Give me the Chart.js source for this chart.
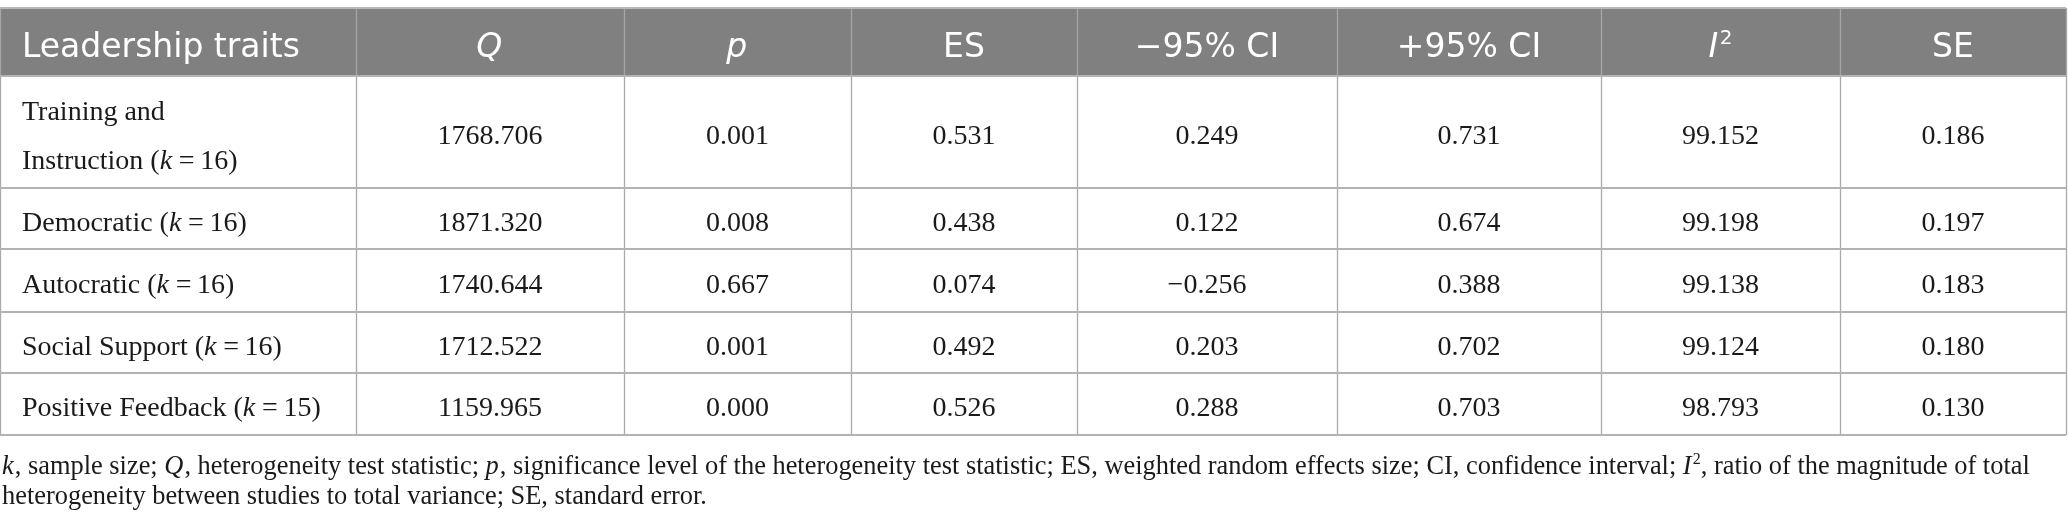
<!DOCTYPE html>
<html>
<head>
<meta charset="utf-8">
<script src="https://cdn.jsdelivr.net/npm/chart.js@4.4.1/dist/chart.umd.min.js"></script>
<style>
html,body{margin:0;padding:0;background:#fff;}
#wrap{width:2068px;height:528px;position:relative;}
</style>
</head>
<body>
<div id="wrap"><canvas id="c"></canvas></div>
<script>
// ---- data ----
const traits = ['Training and\nInstruction', 'Democratic', 'Autocratic', 'Social Support', 'Positive Feedback'];
const kValues = [16, 16, 16, 16, 15];
const qValues = [1768.706, 1871.320, 1740.644, 1712.522, 1159.965];
const pValues = [0.001, 0.008, 0.667, 0.001, 0.000];
const esValues = [0.531, 0.438, 0.074, 0.492, 0.526];
const ciLowValues = [0.249, 0.122, -0.256, 0.203, 0.288];
const ciHighValues = [0.731, 0.674, 0.388, 0.702, 0.703];
const i2Values = [99.152, 99.198, 99.138, 99.124, 98.793];
const seValues = [0.186, 0.197, 0.183, 0.180, 0.130];

const headers = [
  [{t: 'Leadership traits'}],
  [{t: 'Q', i: true}],
  [{t: 'p', i: true}],
  [{t: 'ES'}],
  [{t: '\u221295% CI'}],
  [{t: '+95% CI'}],
  [{t: 'I', i: true}, {t: '2', sup: true}],
  [{t: 'SE'}]
];

const footnoteLines = [
  [{t: 'k', i: true}, {t: ', sample size; '}, {t: 'Q', i: true}, {t: ', heterogeneity test statistic; '},
   {t: 'p', i: true}, {t: ', significance level of the heterogeneity test statistic; ES, weighted random effects size; CI, confidence interval; '},
   {t: 'I', i: true}, {t: '2', sup: true}, {t: ', ratio of the magnitude of total'}],
  [{t: 'heterogeneity between studies to total variance; SE, standard error.'}]
];

// ---- layout (not data) ----
const colWidths = [356, 268, 227, 226, 260, 264, 239, 226];
const rowHeights = [68, 112, 61, 63, 61, 62];
const footnoteTargetWidth = 2029;
const totalW = colWidths.reduce((a, b) => a + b, 0);
const totalH = rowHeights.reduce((a, b) => a + b, 0);
const SERIF = '"Liberation Serif", "Times New Roman", serif';
const SANS = '"DejaVu Sans", sans-serif';

function fmt(v) {
  const s = Math.abs(v).toFixed(3);
  return v < 0 ? '\u2212' + s : s;
}

function cumulative(arr) {
  const out = [0];
  arr.forEach(v => out.push(out[out.length - 1] + v));
  return out;
}
const colEdges = cumulative(colWidths);
const rowEdges = cumulative(rowHeights);

function segFont(seg, size, family) {
  const sz = seg.sup ? Math.round(size * 0.62) : size;
  return (seg.i ? 'italic ' : '') + sz + 'px ' + family;
}
function richWidth(ctx, segs, size, family) {
  let w = 0;
  segs.forEach(s => {
    ctx.font = segFont(s, size, family);
    w += ctx.measureText(s.t).width + (s.i && !s.sup ? size * 0.04 : 0);
  });
  return w;
}
function drawRich(ctx, segs, x, y, align, size, family, color) {
  const w = richWidth(ctx, segs, size, family);
  let cx = align === 'center' ? x - w / 2 : x;
  ctx.fillStyle = color;
  ctx.textBaseline = 'alphabetic';
  ctx.textAlign = 'left';
  segs.forEach(s => {
    ctx.font = segFont(s, size, family);
    const dy = s.sup ? -size * 0.38 : 0;
    ctx.fillText(s.t, cx, y + dy);
    cx += ctx.measureText(s.t).width + (s.i && !s.sup ? size * 0.04 : 0);
  });
}

function traitSegments(name, k) {
  const lines = name.split('\n');
  return lines.map((ln, idx) => {
    if (idx < lines.length - 1) return [{t: ln}];
    return [{t: ln + ' ('}, {t: 'k', i: true}, {t: '\u2009=\u2009' + String(k) + ')'}];
  });
}

const tablePlugin = {
  id: 'tablePlugin',
  afterDraw(chart) {
    const ctx = chart.ctx;
    const xs = chart.scales.x, ys = chart.scales.y;
    const px = v => xs.getPixelForValue(v);
    const py = v => ys.getPixelForValue(v);
    const x0 = px(0), x1 = px(totalW);
    ctx.save();

    // header background
    ctx.fillStyle = '#808080';
    ctx.fillRect(x0, py(0), x1 - x0, py(rowEdges[1]) - py(0));

    // vertical lines
    colEdges.forEach((e) => {
      const x = Math.round(px(e)) + 0.5;
      ctx.lineWidth = 1.3;
      ctx.strokeStyle = '#a9a9a9';
      ctx.beginPath(); ctx.moveTo(x, py(rowEdges[1])); ctx.lineTo(x, py(totalH)); ctx.stroke();
      ctx.strokeStyle = '#a6a6a6';
      ctx.beginPath(); ctx.moveTo(x, py(0)); ctx.lineTo(x, py(rowEdges[1])); ctx.stroke();
    });
    // horizontal lines
    rowEdges.forEach((e, ri) => {
      const y = Math.round(py(e));
      ctx.strokeStyle = ri === 0 ? '#b8b8b8' : '#b3b3b3';
      ctx.lineWidth = 2;
      ctx.beginPath(); ctx.moveTo(x0, y); ctx.lineTo(x1, y); ctx.stroke();
    });

    // header texts
    headers.forEach((segs, ci) => {
      const yc = (py(rowEdges[0]) + py(rowEdges[1])) / 2;
      const baseline = yc + 15;
      if (ci === 0) drawRich(ctx, segs, px(colEdges[0]) + 22, baseline, 'left', 33, SANS, '#ffffff');
      else drawRich(ctx, segs, (px(colEdges[ci]) + px(colEdges[ci + 1])) / 2, baseline, 'center', 33, SANS, '#ffffff');
    });

    // body rows
    const columns = [qValues, pValues, esValues, ciLowValues, ciHighValues, i2Values, seValues];
    traits.forEach((name, ri) => {
      const top = py(rowEdges[ri + 1]), bot = py(rowEdges[ri + 2]);
      const yc = (top + bot) / 2;
      const lines = traitSegments(name, kValues[ri]);
      lines.forEach((segs, li) => {
        const b = yc + 12 + (li - (lines.length - 1) / 2) * 49;
        drawRich(ctx, segs, px(colEdges[0]) + 22, b, 'left', 28, SERIF, '#1a1a1a');
      });
      columns.forEach((arr, ci) => {
        const cx = (px(colEdges[ci + 1]) + px(colEdges[ci + 2])) / 2;
        drawRich(ctx, [{t: fmt(arr[ri])}], cx, yc + 12, 'center', 28, SERIF, '#1a1a1a');
      });
    });

    // footnote (font size fitted to the reference line length)
    const w24 = richWidth(ctx, footnoteLines[0], 24, SERIF);
    const fSize = Math.round(24 * footnoteTargetWidth / w24 * 10) / 10;
    const fb = py(totalH);
    footnoteLines.forEach((segs, li) => {
      drawRich(ctx, segs, x0 + 2, fb + 39 + li * 30, 'left', fSize, SERIF, '#1a1a1a');
    });
    ctx.restore();
  }
};

new Chart(document.getElementById('c'), {
  type: 'scatter',
  data: {datasets: [{data: [], pointRadius: 0}]},
  options: {
    responsive: true,
    maintainAspectRatio: false,
    animation: false,
    layout: {padding: {left: 0, right: 2, top: 8, bottom: 93}},
    plugins: {legend: {display: false}, tooltip: {enabled: false}},
    scales: {
      x: {type: 'linear', min: 0, max: totalW, display: false},
      y: {type: 'linear', min: 0, max: totalH, reverse: true, display: false}
    }
  },
  plugins: [tablePlugin]
});
</script>
</body>
</html>
